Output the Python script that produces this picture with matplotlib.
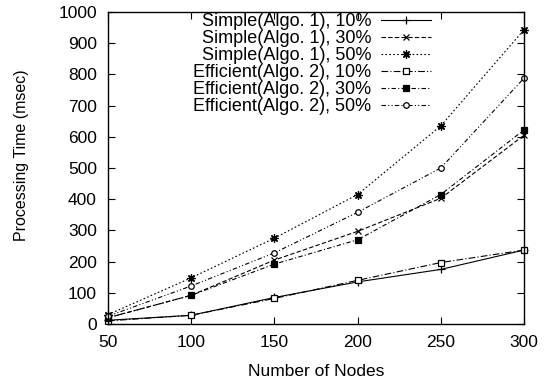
import matplotlib
matplotlib.use("Agg")
import matplotlib.pyplot as plt

nodes = [50, 100, 150, 200, 250, 300]

simple_10 = [12, 28, 85, 135, 175, 237]
simple_30 = [20, 92, 205, 297, 403, 605]
simple_50 = [30, 148, 275, 415, 635, 943]
efficient_10 = [10, 28, 82, 140, 197, 237]
efficient_30 = [20, 92, 192, 270, 415, 622]
efficient_50 = [25, 122, 228, 358, 500, 788]

labels = [
    "Simple(Algo. 1), 10%",
    "Simple(Algo. 1), 30%",
    "Simple(Algo. 1), 50%",
    "Efficient(Algo. 2), 10%",
    "Efficient(Algo. 2), 30%",
    "Efficient(Algo. 2), 50%",
]

plt.rcParams["font.family"] = ["Liberation Sans", "DejaVu Sans"]

fig = plt.figure(figsize=(5.47, 3.83), dpi=100)
ax = fig.add_axes([0.1974, 0.154, 0.7605, 0.8146])

# gnuplot-like styles: all black, different dashes and point types
styles = [
    dict(linestyle="-", marker="+", markersize=6, mfc="black"),
    dict(linestyle=(0, (4, 2)), marker="x", markersize=5, mfc="black"),
    dict(linestyle=(0, (1.5, 2)), marker=(8, 2, 0), markersize=6, mfc="black"),
    dict(linestyle=(0, (6, 2, 1, 2)), marker="s", markersize=4, mfc="white"),
    dict(linestyle=(0, (4, 2, 1, 2)), marker="s", markersize=4, mfc="black"),
    dict(linestyle=(0, (4, 2, 1, 2, 1, 2)), marker="o", markersize=4, mfc="white"),
]
series = [simple_10, simple_30, simple_50, efficient_10, efficient_30, efficient_50]

for vals, lab, st in zip(series, labels, styles):
    ax.plot(nodes, vals, color="black", linewidth=0.8, mec="black",
            mew=0.9, label=lab, clip_on=False, **st)

ax.set_xlim(50, 300)
ax.set_ylim(0, 1000)
ax.set_xticks(nodes)
ax.set_yticks(range(0, 1001, 100))
ax.tick_params(direction="in", top=True, right=True, labelsize=12.5, length=5)
ax.tick_params(axis="x", pad=8)
ax.tick_params(axis="y", pad=8)
for s in ax.spines.values():
    s.set_linewidth(1.0)

ax.set_xlabel("Number of Nodes", fontsize=12.5, labelpad=10)
ax.set_ylabel("Processing Time (msec)", fontsize=11.5)
ax.yaxis.set_label_coords(-0.19, 0.54)

ax.legend(loc="upper right", bbox_to_anchor=(0.779, 1.0), markerfirst=False,
          frameon=False, fontsize=13, handlelength=2.8, labelspacing=0.0,
          handletextpad=0.5, borderpad=0.05, borderaxespad=0.0)

fig.savefig("out.png", dpi=100)
plt.close(fig)
